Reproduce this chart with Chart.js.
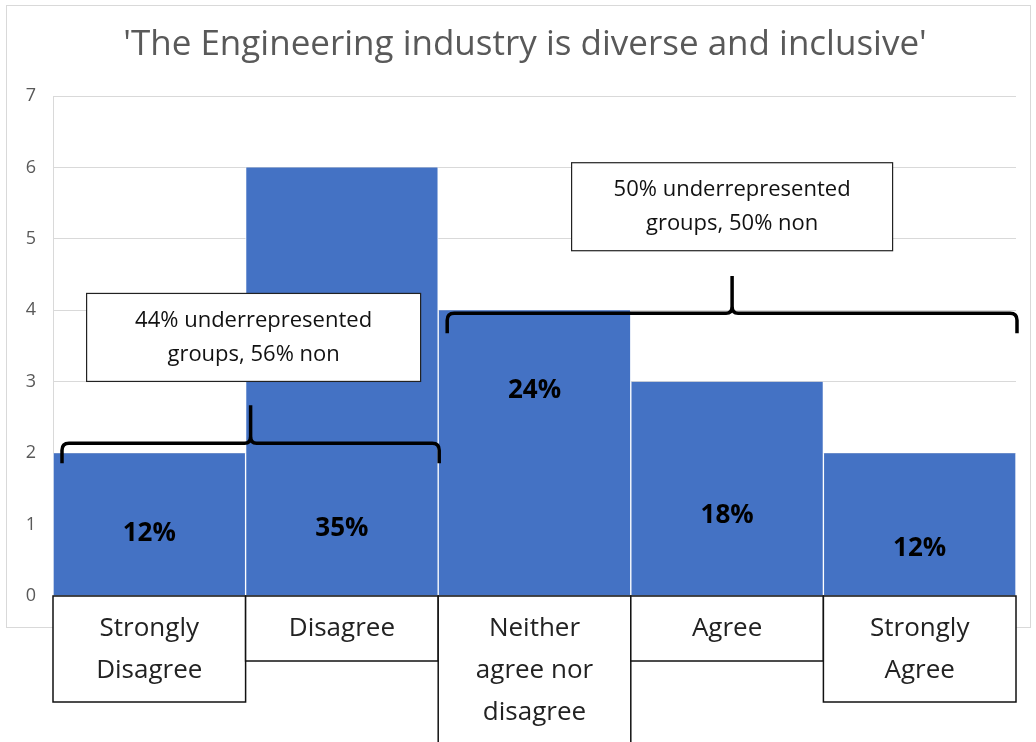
<!DOCTYPE html>
<html>
<head>
<meta charset="utf-8">
<script src="https://cdn.jsdelivr.net/npm/chart.js@4"></script>
<style>
body { margin: 0; background: #fff; }
#wrap { width: 1036px; height: 742px; position: relative; }
</style>
</head>
<body>
<div id="wrap"><canvas id="myChart"></canvas></div>
<script>
var titleText = "'The Engineering industry is diverse and inclusive'";
var categories = [['Strongly', 'Disagree'], ['Disagree'], ['Neither', 'agree nor', 'disagree'], ['Agree'], ['Strongly', 'Agree']];
var counts = [2, 6, 4, 3, 2];
var percentLabels = ['12%', '35%', '24%', '18%', '12%'];
var percentLevels = [0.88, 0.95, 2.87, 1.13, 0.67];
var yTicks = [0, 1, 2, 3, 4, 5, 6, 7];
var braceGroups = [[0, 1], [2, 4]];
var braceLevels = [2.14, 3.96];
var braceTips = [2.67, 4.48];
var noteTexts = [['44% underrepresented', 'groups, 56% non'], ['50% underrepresented', 'groups, 50% non']];
var noteLevels = [3.62, 5.45];

var FONT = '"Open Sans", "Noto Sans", sans-serif';
var noteWidths = [334, 321];

var extras = {
    id: 'extras',
    beforeDraw: function(chart) {
        var c = chart.ctx;
        c.save();
        // chart frame
        c.strokeStyle = '#d9d9d9';
        c.lineWidth = 1;
        c.strokeRect(6.5, 5.5, 1024, 622);
        // title
        c.fillStyle = '#595959';
        c.font = '35px ' + FONT;
        c.textAlign = 'center';
        c.textBaseline = 'middle';
        c.fillText(titleText, 525, 45);
        c.restore();
    },
    afterDraw: function(chart) {
        var c = chart.ctx;
        var xs = chart.scales.x, ys = chart.scales.y;
        var area = chart.chartArea;
        var w = area.width / categories.length;
        c.save();

        // percentage labels inside bars
        c.fillStyle = '#000';
        c.font = 'bold 26px ' + FONT;
        c.textAlign = 'center';
        c.textBaseline = 'middle';
        percentLabels.forEach(function(t, i) {
            c.fillText(t, xs.getPixelForValue(i), ys.getPixelForValue(percentLevels[i]));
        });

        // category boxes under the bars
        c.font = '26px ' + FONT;
        c.strokeStyle = '#111';
        c.lineWidth = 1.5;
        categories.forEach(function(lines, i) {
            var left = xs.getPixelForValue(i) - w / 2;
            var h = 24 + 41 * lines.length;
            c.fillStyle = '#fff';
            c.fillRect(left, area.bottom, w, h);
            c.strokeRect(left, area.bottom, w, h);
            c.fillStyle = '#222';
            lines.forEach(function(t, k) {
                c.fillText(t, left + w / 2, area.bottom + 33 + k * 42);
            });
        });

        // braces and notes
        braceGroups.forEach(function(g, n) {
            var L = xs.getPixelForValue(g[0]) - w / 2 + 9;
            var R = xs.getPixelForValue(g[1]) + w / 2 + 1;
            var C = (L + R) / 2;
            var y0 = ys.getPixelForValue(braceLevels[n]);
            var tip = ys.getPixelForValue(braceTips[n]);
            c.strokeStyle = '#000';
            c.lineWidth = 3.5;
            c.beginPath();
            c.moveTo(L, y0 + 20);
            c.lineTo(L, y0 + 7);
            c.quadraticCurveTo(L, y0, L + 7, y0);
            c.lineTo(C - 6, y0);
            c.quadraticCurveTo(C, y0, C, y0 - 7);
            c.lineTo(C, tip);
            c.moveTo(C, y0 - 7);
            c.quadraticCurveTo(C, y0, C + 6, y0);
            c.lineTo(R - 7, y0);
            c.quadraticCurveTo(R, y0, R, y0 + 7);
            c.lineTo(R, y0 + 20);
            c.stroke();

            var cx = C + (n === 0 ? 3 : 0);
            var cy = ys.getPixelForValue(noteLevels[n]);
            var bw = noteWidths[n], bh = 88;
            c.fillStyle = '#fff';
            c.fillRect(cx - bw / 2, cy - bh / 2, bw, bh);
            c.strokeStyle = '#222';
            c.lineWidth = 1.2;
            c.strokeRect(cx - bw / 2, cy - bh / 2, bw, bh);
            c.fillStyle = '#111';
            c.font = '22px ' + FONT;
            noteTexts[n].forEach(function(t, k) {
                c.fillText(t, cx, cy - 17 + k * 34);
            });
        });
        c.restore();
    }
};

var ctx = document.getElementById('myChart').getContext('2d');
var myBarChart = new Chart(ctx, {
    type: 'bar',
    data: {
        labels: categories,
        datasets: [{
            data: counts,
            backgroundColor: '#4472C4',
            borderColor: '#ffffff',
            borderWidth: { left: 1, right: 1, top: 0, bottom: 0 },
            barPercentage: 1,
            categoryPercentage: 1
        }]
    },
    options: {
        responsive: true,
        maintainAspectRatio: false,
        animation: false,
        layout: {
            padding: { left: 0, right: 20, top: 96, bottom: 146 }
        },
        scales: {
            x: { display: false },
            y: {
                min: 0,
                max: 7,
                ticks: {
                    stepSize: 1,
                    color: '#595959',
                    padding: 17,
                    font: { family: FONT, size: 18 },
                    callback: function(v) { return yTicks.indexOf(v) >= 0 ? v : ''; }
                },
                grid: { color: '#d9d9d9', drawTicks: false },
                border: { color: '#d9d9d9' },
                afterFit: function(scale) { scale.width = 53; }
            }
        },
        plugins: {
            legend: { display: false },
            tooltip: { enabled: false }
        }
    },
    plugins: [extras]
});
</script>
</body>
</html>
